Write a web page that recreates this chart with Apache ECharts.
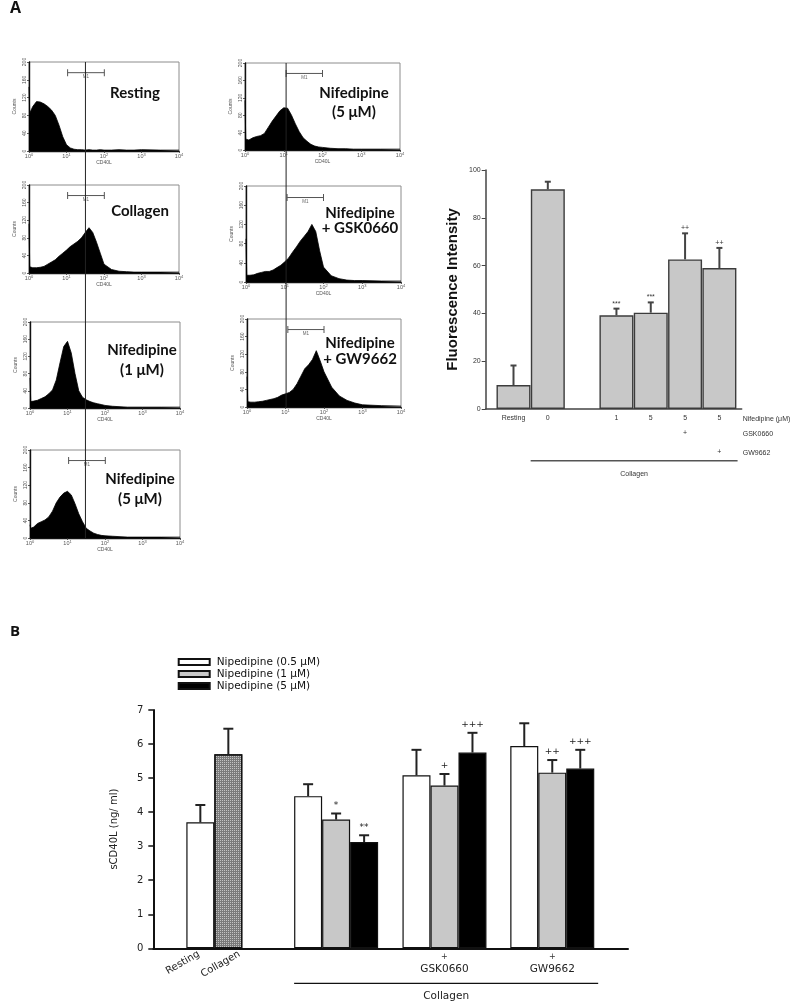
<!DOCTYPE html>
<html><head><meta charset="utf-8">
<script src="https://cdn.jsdelivr.net/npm/echarts@6/dist/echarts.min.js"></script>
<style>html,body{margin:0;padding:0;background:#fff}#c{width:794px;height:1002px}</style>
</head><body><div id="c"></div>
<script>
// ================= DATA =================
// Flow cytometry histograms (x = log10 CD40L fluorescence, y = counts)
const histExp = [0, 0.02, 0.1, 0.2, 0.3, 0.4, 0.5, 0.6, 0.7, 0.8, 0.9, 1.0, 1.1, 1.2, 1.3, 1.4, 1.5, 1.6, 1.7, 1.8, 1.9, 2.0, 2.2, 2.4, 2.6, 2.8, 3.0, 3.5, 4.0];
const histResting  = [144, 85, 100, 111, 110, 106, 100, 92, 80, 58, 32, 14, 7, 4, 3, 3, 2, 3, 2, 2, 3, 2, 2, 3, 2, 2, 3, 2, 2];
const histCollagen = [112, 14, 12, 12, 13, 15, 20, 25, 30, 38, 45, 52, 60, 66, 72, 80, 92, 103, 92, 70, 45, 20, 8, 4, 3, 2, 2, 2, 2];
const histNif1     = [70, 15, 16, 18, 22, 26, 33, 42, 65, 105, 143, 155, 128, 80, 40, 25, 19, 15, 12, 10, 8, 6, 4, 3, 2, 2, 2, 2, 2];
const histNif5a    = [30, 22, 25, 33, 37, 41, 48, 61, 80, 93, 102, 106, 98, 78, 55, 37, 22, 16, 11, 8, 6, 5, 4, 3, 2, 2, 2, 2, 2];
const histNif5b    = [114, 25, 23, 28, 31, 33, 38, 52, 66, 78, 90, 97, 96, 80, 60, 42, 28, 20, 13, 9, 7, 6, 4, 3, 3, 2, 2, 2, 2];
const histGSK      = [90, 14, 14, 15, 18, 20, 22, 22, 25, 30, 35, 42, 50, 62, 73, 85, 95, 105, 120, 105, 65, 31, 13, 7, 4, 3, 3, 2, 2];
const histGW       = [69, 12, 11, 11, 12, 13, 15, 17, 19, 22, 27, 30, 33, 40, 53, 70, 87, 96, 108, 128, 105, 80, 45, 25, 15, 9, 5, 3, 2];
const histTitles = [['Resting'], ['Collagen'], ['Nifedipine', '(1 \u03bcM)'], ['Nifedipine', '(5 \u03bcM)'],
                    ['Nifedipine', '(5 \u03bcM)'], ['Nifedipine', '+ GSK0660'], ['Nifedipine', '+ GW9662']];
const histM1 = [[10.7, 102], [10.7, 102], null, [10.7, 102], [11.5, 100], [11.5, 100], [11.5, 100]];
const m1Level = 176;
const gateLeft = 32, gateRight = 11.5;

// Fluorescence intensity bar chart
const fiCategories = ['Resting', '0', '1', '5', '5', '5'];
const fiValues = [10.0, 91.9, 39.2, 40.3, 62.6, 59.0];
const fiErrors = [8.2, 3.2, 2.8, 4.3, 10.9, 8.4];
const fiGSK = ['', '', '', '', '+', ''];
const fiGW  = ['', '', '', '', '', '+'];
const fiSig = ['', '', '***', '***', '++', '++'];
const fiRowNames = ['Nifedipine (\u03bcM)', 'GSK0660', 'GW9662'];

// sCD40L bar chart
const bCtrlCats = ['Resting', 'Collagen'];
const bCtrlVals = [3.70, 5.70];
const bCtrlErr  = [0.51, 0.75];
const bGroupLabels = ['', 'GSK0660', 'GW9662'];
const bSeriesNames = ['Nipedipine (0.5 \u03bcM)', 'Nipedipine (1 \u03bcM)', 'Nipedipine (5 \u03bcM)'];
const b05 = [4.47, 5.08, 5.94], b05Err = [0.35, 0.75, 0.67], b05Sig = ['', '', ''];
const b1  = [3.78, 4.78, 5.16], b1Err  = [0.18, 0.34, 0.37], b1Sig  = ['*', '+', '++'];
const b5  = [3.12, 5.75, 5.28], b5Err  = [0.20, 0.58, 0.55], b5Sig  = ['**', '+++', '+++'];

// ================= LAYOUT =================
const histCounts = [histResting, histCollagen, histNif1, histNif5a, histNif5b, histGSK, histGW];
const histBox = [[29, 62, 150, 89], [29, 185, 150, 88], [30, 322, 150, 86], [30, 450, 150, 88],
                 [245, 63, 155, 87], [246, 186, 155, 96], [247, 319, 154, 88]];
const histTitleXY = [[[135, 93]], [[140, 211]], [[142, 350], [142, 370]], [[140, 479], [140, 499]],
                     [[354, 93], [354, 112]], [[360, 213], [360, 228]], [[360, 343], [360, 359]]];
const fiPos = [1, 2, 4, 5, 6, 7];
const bCtrlPos = [1, 2];
const bCtrlLabelPos = [0.95, 2.4];
const bGroupPos = [4.85, 8.72, 12.57];

const grids = [], xAxes = [], yAxes = [], series = [];
const smallFont = 'Liberation Sans';
const bFont = 'DejaVu Sans';

histCounts.forEach((counts, i) => {
  const b = histBox[i];
  grids.push({left: b[0], top: b[1], width: b[2], height: b[3], show: true, borderColor: '#8c8c8c', borderWidth: 1, containLabel: false});
  xAxes.push({
    type: 'log', logBase: 10, min: 1, max: 10000, gridIndex: i,
    axisLine: {show: true, onZero: false, lineStyle: {color: '#111', width: 1.4}},
    axisTick: {show: true, length: 2, lineStyle: {color: '#333', width: 0.8}},
    minorTick: {show: false}, splitLine: {show: false},
    axisLabel: {fontSize: 5.5, color: '#555', margin: 2, fontFamily: smallFont,
      formatter: v => '10{s|' + Math.round(Math.log10(v)) + '}',
      rich: {s: {fontSize: 4, color: '#555', verticalAlign: 'top', padding: [0, 0, 3, 0]}}},
    name: 'CD40L', nameLocation: 'middle', nameGap: 9,
    nameTextStyle: {fontSize: 5, color: '#555', fontFamily: smallFont}
  });
  yAxes.push({
    type: 'value', min: 0, max: 200, interval: 40, gridIndex: i,
    axisLine: {show: true, onZero: false, lineStyle: {color: '#111', width: 1.4}},
    axisTick: {show: true, length: 2, lineStyle: {color: '#333', width: 0.8}},
    splitLine: {show: false},
    axisLabel: {rotate: 90, fontSize: 5, color: '#555', margin: 2, fontFamily: smallFont},
    name: 'Counts', nameLocation: 'middle', nameGap: 12,
    nameTextStyle: {fontSize: 5, color: '#555', fontFamily: smallFont}
  });
  series.push({
    type: 'line', xAxisIndex: i, yAxisIndex: i, silent: true,
    data: histExp.map((e, k) => [Math.pow(10, e), counts[k]]),
    symbol: 'none', lineStyle: {color: '#000', width: 0.8},
    areaStyle: {color: '#000', opacity: 1}, z: 2
  });
  const m = histM1[i];
  if (m) {
    series.push({
      type: 'line', xAxisIndex: i, yAxisIndex: i, silent: true, z: 4,
      data: [
        {value: [m[0], m1Level], symbol: 'rect', symbolSize: [1, 7]},
        {value: [Math.sqrt(m[0] * m[1]), m1Level], symbol: 'rect', symbolSize: [1, 1],
         label: {show: true, formatter: 'M1', position: 'bottom', distance: 1, fontSize: 4.5, color: '#666', fontFamily: smallFont}},
        {value: [m[1], m1Level], symbol: 'rect', symbolSize: [1, 7]}
      ],
      showAllSymbol: true,
      itemStyle: {color: '#555'}, lineStyle: {color: '#555', width: 1}
    });
  }
});

// ---------- Fluorescence intensity chart ----------
const gFI = grids.length;
grids.push({left: 485.7, top: 170, width: 256, height: 239, containLabel: false});
const xFI = xAxes.length;
xAxes.push({
  type: 'value', min: 0.19, max: 7.65, gridIndex: gFI,
  axisLine: {show: true, onZero: false, lineStyle: {color: '#444', width: 1.5}},
  axisTick: {show: false}, splitLine: {show: false},
  axisLabel: {customValues: fiPos, formatter: v => fiCategories[fiPos.indexOf(v)],
    fontSize: 7, color: '#333', margin: 6, fontFamily: smallFont}
});
xAxes.push({
  type: 'value', min: 0.19, max: 7.65, gridIndex: gFI, position: 'bottom', offset: 15,
  axisLine: {show: false}, axisTick: {show: false}, splitLine: {show: false},
  axisLabel: {customValues: fiPos.filter((p, k) => fiGSK[k]), formatter: v => fiGSK[fiPos.indexOf(v)],
    fontSize: 7, color: '#333', margin: 6, fontFamily: smallFont}
});
xAxes.push({
  type: 'value', min: 0.19, max: 7.65, gridIndex: gFI, position: 'bottom', offset: 34,
  axisLine: {show: false}, axisTick: {show: false}, splitLine: {show: false},
  axisLabel: {customValues: fiPos.filter((p, k) => fiGW[k]), formatter: v => fiGW[fiPos.indexOf(v)],
    fontSize: 7, color: '#333', margin: 6, fontFamily: smallFont}
});
const yFI = yAxes.length;
yAxes.push({
  type: 'value', min: 0, max: 100, interval: 20, gridIndex: gFI,
  axisLine: {show: true, onZero: false, lineStyle: {color: '#444', width: 1.5}},
  axisTick: {show: true, length: 4, lineStyle: {color: '#444', width: 1}},
  splitLine: {show: false},
  axisLabel: {fontSize: 7, color: '#333', margin: 5, fontFamily: smallFont},
  name: 'Fluorescence Intensity', nameLocation: 'middle', nameGap: 25,
  nameTextStyle: {fontSize: 15, fontWeight: 'bold', color: '#111', fontFamily: 'Liberation Sans'}
});
series.push({
  type: 'bar', xAxisIndex: xFI, yAxisIndex: yFI, barWidth: 34, barGap: '-100%', silent: true,
  data: fiValues.map((v, k) => [fiPos[k], v]),
  itemStyle: {color: '#c8c8c8', borderColor: '#3c3c3c', borderWidth: 1.4}, z: 2
});
series.push({
  type: 'custom', xAxisIndex: xFI, yAxisIndex: yFI, silent: true, z: 3,
  data: fiValues.map((v, k) => [fiPos[k], v, v + fiErrors[k]]),
  renderItem: (params, api) => {
    const x = api.value(0);
    const p0 = api.coord([x, api.value(1)]), p1 = api.coord([x, api.value(2)]);
    const cap = 6;
    return {type: 'group', children: [
      {type: 'line', shape: {x1: p0[0], y1: p0[1], x2: p1[0], y2: p1[1]}, style: {stroke: '#444', lineWidth: 2}},
      {type: 'line', shape: {x1: p1[0] - cap / 2, y1: p1[1], x2: p1[0] + cap / 2, y2: p1[1]}, style: {stroke: '#444', lineWidth: 2}},
      {type: 'text', x: p1[0], y: p1[1] - 5, style: {text: fiSig[params.dataIndex], align: 'center', verticalAlign: 'middle',
        font: '7px Liberation Sans', fill: '#333'}}
    ]};
  }
});

// ---------- sCD40L chart ----------
const gB = grids.length;
grids.push({left: 153.3, top: 710, width: 474.7, height: 238.3, containLabel: false});
const xB = xAxes.length;
const bMin = -0.68, bMax = 16.275;
xAxes.push({
  type: 'value', min: bMin, max: bMax, gridIndex: gB,
  axisLine: {show: true, onZero: false, lineStyle: {color: '#111', width: 2}},
  axisTick: {show: false}, splitLine: {show: false},
  axisLabel: {customValues: bCtrlLabelPos, formatter: v => bCtrlCats[bCtrlLabelPos.indexOf(v)], rotate: 30,
    fontSize: 10, color: '#222', margin: 5, fontFamily: bFont}
});
const bLabPos = bGroupPos.map(p => p + 1);
xAxes.push({
  type: 'value', min: bMin, max: bMax, gridIndex: gB, position: 'bottom',
  axisLine: {show: false}, axisTick: {show: false}, splitLine: {show: false},
  axisLabel: {customValues: bLabPos.filter((p, k) => bGroupLabels[k]),
    formatter: v => '{p|+}\n{t|' + bGroupLabels[bLabPos.indexOf(v)] + '}',
    margin: 3, fontFamily: bFont,
    rich: {p: {fontSize: 8, lineHeight: 11, color: '#333', fontFamily: bFont},
           t: {fontSize: 10.5, lineHeight: 13, color: '#222', fontFamily: bFont}}}
});
const yB = yAxes.length;
yAxes.push({
  type: 'value', min: 0, max: 7, interval: 1, gridIndex: gB,
  axisLine: {show: true, onZero: false, lineStyle: {color: '#111', width: 2}},
  axisTick: {show: true, length: 5, lineStyle: {color: '#111', width: 1.5}},
  splitLine: {show: false},
  axisLabel: {fontSize: 10, color: '#222', margin: 10, fontFamily: bFont},
  name: 'sCD40L (ng/ ml)', nameLocation: 'middle', nameGap: 34,
  nameTextStyle: {fontSize: 10, color: '#222', fontFamily: bFont}
});
const barBorder = {borderColor: '#111', borderWidth: 1.2};
series.push({
  type: 'bar', name: 'ctrl', xAxisIndex: xB, yAxisIndex: yB, barWidth: 28, barGap: '-100%', silent: true,
  data: [
    {value: [bCtrlPos[0], bCtrlVals[0]], itemStyle: Object.assign({color: '#ffffff'}, barBorder)},
    {value: [bCtrlPos[1], bCtrlVals[1]], itemStyle: Object.assign({color: '#7a7a7a',
      decal: {symbol: 'rect', symbolSize: 1, color: 'rgba(255,255,255,0.55)', dashArrayX: [1, 1], dashArrayY: [1, 1], rotation: 0}}, barBorder)}
  ], z: 2
});
const bSets = [[b05, b05Err, b05Sig, '#ffffff'], [b1, b1Err, b1Sig, '#c8c8c8'], [b5, b5Err, b5Sig, '#000000']];
bSets.forEach((s, j) => {
  series.push({
    type: 'bar', name: bSeriesNames[j], xAxisIndex: xB, yAxisIndex: yB, barWidth: 28, barGap: '-100%', silent: true,
    data: s[0].map((v, k) => [bGroupPos[k] + j, v]),
    itemStyle: Object.assign({color: s[3]}, barBorder), z: 2
  });
});
const bErrItems = [];
bCtrlVals.forEach((v, k) => bErrItems.push([bCtrlPos[k], v, v + bCtrlErr[k], '']));
bSets.forEach((s, j) => s[0].forEach((v, k) => bErrItems.push([bGroupPos[k] + j, v, v + s[1][k], s[2][k]])));
series.push({
  type: 'custom', xAxisIndex: xB, yAxisIndex: yB, silent: true, z: 3,
  data: bErrItems.map(o => [o[0], o[1], o[2]]),
  renderItem: (params, api) => {
    const x = api.value(0);
    const p0 = api.coord([x, api.value(1)]), p1 = api.coord([x, api.value(2)]);
    const cap = 10;
    return {type: 'group', children: [
      {type: 'line', shape: {x1: p0[0], y1: p0[1], x2: p1[0], y2: p1[1]}, style: {stroke: '#222', lineWidth: 2}},
      {type: 'line', shape: {x1: p1[0] - cap / 2, y1: p1[1], x2: p1[0] + cap / 2, y2: p1[1]}, style: {stroke: '#222', lineWidth: 2}},
      {type: 'text', x: p1[0], y: p1[1] - 8, style: {text: bErrItems[params.dataIndex][3], align: 'center', verticalAlign: 'middle',
        font: '9px "DejaVu Sans"', fill: '#222'}}
    ]};
  }
});

const option = {
  animation: false,
  backgroundColor: '#ffffff',
  grid: grids, xAxis: xAxes, yAxis: yAxes, series: series,
  legend: {
    data: bSeriesNames, orient: 'vertical', left: 172.7, top: 651,
    itemWidth: 31, itemHeight: 6, itemGap: 0, icon: 'rect', selectedMode: false,
    textStyle: {fontSize: 10.5, lineHeight: 12, color: '#111', fontFamily: bFont, padding: [0, 0, 0, 2]}
  }
};

const chart = echarts.init(document.getElementById('c'), null, {renderer: 'canvas'});
chart.setOption(option);

// ---------- annotations placed through the axes ----------
const gfx = [];
const px = (g, v) => chart.convertToPixel({gridIndex: g}, v);
gfx.push({type: 'text', x: 10, y: 0, style: {text: 'A', font: 'bold 16px "Open Sans"', fill: '#111', align: 'left', verticalAlign: 'top'}});
gfx.push({type: 'text', x: 10, y: 624, style: {text: 'B', font: 'bold 15px "Open Sans"', fill: '#111', align: 'left', verticalAlign: 'top'}});
histTitles.forEach((lines, i) => lines.forEach((t, j) => {
  const xy = histTitleXY[i][j];
  gfx.push({type: 'text', x: xy[0], y: xy[1], z: 10, style: {text: t, font: 'bold 15px Lato', fill: '#111', align: 'center', verticalAlign: 'middle'}});
}));
const lTop = px(0, [gateLeft, 200]), lBot = px(3, [gateLeft, 0]);
gfx.push({type: 'line', z: 10, shape: {x1: lTop[0], y1: lTop[1], x2: lTop[0], y2: lBot[1]}, style: {stroke: '#222', lineWidth: 1}});
const rTop = px(4, [gateRight, 200]), rBot = px(6, [gateRight, 0]);
gfx.push({type: 'line', z: 10, shape: {x1: rTop[0], y1: rTop[1], x2: rTop[0], y2: rBot[1]}, style: {stroke: '#222', lineWidth: 1}});
const fiEnd = px(gFI, [7.65, 0]);
const fiRowOff = [10, 25, 44];
fiRowNames.forEach((t, k) => gfx.push({type: 'text', x: fiEnd[0] + 1, y: fiEnd[1] + fiRowOff[k],
  style: {text: t, font: '7px Liberation Sans', fill: '#333', align: 'left', verticalAlign: 'middle'}}));
const fiL = px(gFI, [1.5, 0]), fiR = px(gFI, [7.53, 0]);
gfx.push({type: 'line', shape: {x1: fiL[0], y1: fiL[1] + 51.7, x2: fiR[0], y2: fiL[1] + 51.7}, style: {stroke: '#555', lineWidth: 1.5}});
gfx.push({type: 'text', x: (fiL[0] + fiR[0]) / 2, y: fiL[1] + 65, style: {text: 'Collagen', font: '7px Liberation Sans', fill: '#333', align: 'center', verticalAlign: 'middle'}});
const bL = px(gB, [bGroupPos[0] - 0.5, 0]), bR = px(gB, [bGroupPos[2] + 2.64, 0]);
gfx.push({type: 'line', shape: {x1: bL[0], y1: bL[1] + 35, x2: bR[0], y2: bL[1] + 35}, style: {stroke: '#111', lineWidth: 1.3}});
gfx.push({type: 'text', x: (bL[0] + bR[0]) / 2, y: bL[1] + 48.4, style: {text: 'Collagen', font: '10.5px "DejaVu Sans"', fill: '#222', align: 'center', verticalAlign: 'middle'}});

chart.setOption({graphic: gfx});
</script></body></html>
